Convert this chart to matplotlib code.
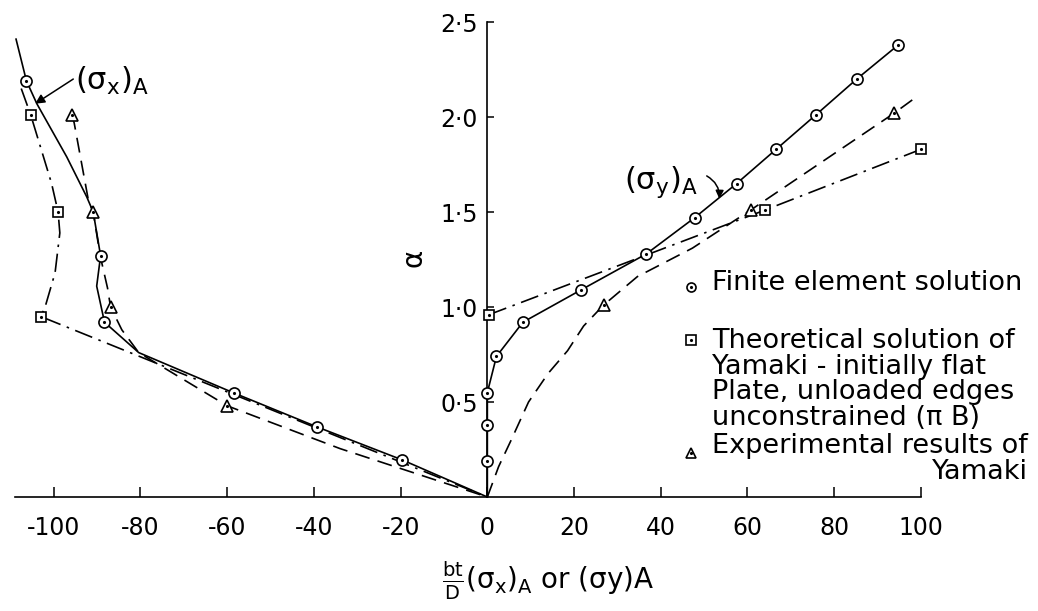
import matplotlib
matplotlib.use("Agg")
import matplotlib.pyplot as plt

plt.rcParams["font.family"] = ["DejaVu Sans"]
plt.rcParams["mathtext.fontset"] = "dejavusans"
plt.rcParams["mathtext.default"] = "regular"
plt.rcParams["axes.unicode_minus"] = False

# finite element solution, (sigma_y)_A  (circles, solid)
fe_y_x = [0, 0, 0, 2.1, 8.2, 21.6, 36.7, 47.8, 57.5, 66.6, 75.7, 85.2, 94.8]
fe_y_a = [0.19, 0.38, 0.55, 0.74, 0.92, 1.09, 1.28, 1.47, 1.65, 1.83, 2.01, 2.20, 2.38]
fe_y_line_x = [0] + fe_y_x
fe_y_line_a = [0] + fe_y_a

# theory of Yamaki, (sigma_y)_A  (squares, dash-dot)
th_y_x = [0.4, 64, 100]
th_y_a = [0.96, 1.51, 1.83]

# experiments of Yamaki, (sigma_y)_A  (triangles, dashed)
ex_y_x = [26.8, 60.7, 93.8]
ex_y_a = [1.01, 1.51, 2.02]
ex_y_line_x = [0, 2.6, 5.5, 9.5, 14, 18.5, 22.2, 26.8, 34.6, 47.3, 60.7, 93.8, 98]
ex_y_line_a = [0, 0.16, 0.30, 0.50, 0.65, 0.77, 0.90, 1.01, 1.16, 1.31, 1.51, 2.02, 2.09]

# finite element solution, (sigma_x)_A
fe_x_x = [-106.3, -89.2, -88.3, -58.4, -39.4, -19.6]
fe_x_a = [2.19, 1.27, 0.92, 0.547, 0.37, 0.195]
fe_x_line_x = [-108.7, -106.3, -103.9, -97, -92.4, -90.9, -89.2, -90.1, -88.3,
               -80.4, -58.4, -39.4, -19.6, 0]
fe_x_line_a = [2.41, 2.19, 2.07, 1.79, 1.58, 1.50, 1.27, 1.11, 0.92,
               0.76, 0.547, 0.37, 0.195, 0]

# theory, (sigma_x)_A
th_x_x = [-105.3, -99, -103]
th_x_a = [2.01, 1.50, 0.95]
th_x_line_x = [-107.5, -105.3, -100.5, -99, -98.6, -99.7, -102, -103, 0]
th_x_line_a = [2.15, 2.01, 1.65, 1.50, 1.39, 1.18, 1.00, 0.95, 0]

# experiments, (sigma_x)_A
ex_x_x = [-95.9, -90.9, -86.9, -60]
ex_x_a = [2.01, 1.50, 1.00, 0.48]
ex_x_line_x = [-95.9, -95.3, -92, -90.9, -89.3, -87.6, -86.9, -84.3, -80.4, -60, -34, 0]
ex_x_line_a = [2.01, 1.97, 1.56, 1.50, 1.27, 1.10, 1.00, 0.88, 0.76, 0.48, 0.255, 0]

x_ticks = [-100, -80, -60, -40, -20, 0, 20, 40, 60, 80, 100]
x_tick_labels = ["-100", "-80", "-60", "-40", "-20", "0", "20", "40", "60", "80", "100"]
y_ticks = [0.5, 1.0, 1.5, 2.0, 2.5]
y_tick_labels = ["0·5", "1·0", "1·5", "2·0", "2·5"]

legend_fe = "Finite element solution"
legend_th = ("Theoretical solution of\nYamaki - initially flat\n"
             "Plate, unloaded edges\nunconstrained (π B)")
legend_ex = "Experimental results of\nYamaki"

SOLID = "-"
DASHED = (0, (9, 5))
DASHDOT = (0, (11, 4, 1.5, 4))
LW = 1.2

fig = plt.figure(figsize=(10.38, 6.11), dpi=100)
ax = fig.add_axes([0, 0, 1, 1])
ax.set_xlim(-112.4, 127.0)
ax.set_ylim(-0.6, 2.616)


def marks(x, y, marker, size):
    ax.plot(x, y, linestyle="none", marker=marker, ms=size, mfc="white",
            mec="black", mew=1.2, zorder=4)
    ax.plot(x, y, linestyle="none", marker=".", ms=2.5, color="black", zorder=5)


ax.plot(th_x_line_x, th_x_line_a, color="black", lw=LW, ls=DASHDOT, zorder=2)
ax.plot(th_y_x, th_y_a, color="black", lw=LW, ls=DASHDOT, zorder=2)
ax.plot(ex_x_line_x, ex_x_line_a, color="black", lw=LW, ls=DASHED, zorder=2)
ax.plot(ex_y_line_x, ex_y_line_a, color="black", lw=LW, ls=DASHED, zorder=2)
ax.plot(fe_x_line_x, fe_x_line_a, color="black", lw=LW, ls=SOLID, zorder=3)
ax.plot(fe_y_line_x, fe_y_line_a, color="black", lw=LW, ls=SOLID, zorder=3)

marks(fe_x_x, fe_x_a, "o", 8)
marks(fe_y_x, fe_y_a, "o", 8)
marks(th_x_x, th_x_a, "s", 7.5)
marks(th_y_x, th_y_a, "s", 7.5)
marks(ex_x_x, ex_x_a, "^", 9)
marks(ex_y_x, ex_y_a, "^", 9)

# axes through the origin
for side in ["top", "right"]:
    ax.spines[side].set_visible(False)
ax.spines["bottom"].set_position(("data", 0))
ax.spines["left"].set_position(("data", 0))
ax.spines["bottom"].set_bounds(-109, 100)
ax.spines["left"].set_bounds(0, 2.5)
ax.spines["bottom"].set_linewidth(1.2)
ax.spines["left"].set_linewidth(1.2)
ax.set_xticks(x_ticks)
ax.set_xticklabels(x_tick_labels)
ax.set_yticks(y_ticks)
ax.set_yticklabels(y_tick_labels)
ax.tick_params(axis="x", direction="in", length=7, width=1.1, pad=14, labelsize=17)
ax.tick_params(axis="y", direction="in", length=5, width=1.1, pad=7, labelsize=17)
ax.set_facecolor("white")

# labels
ax.text(-17.1, 1.26, "α", fontsize=20, rotation=90, ha="center", va="center")
ax.text(14.0, -0.44, r"$\frac{bt}{D}(\sigma_x)_A$ or $(\sigma y)$A",
        fontsize=20, ha="center", va="center")

ax.text(-86.5, 2.19, r"$(\sigma_x)_A$", fontsize=22, ha="center", va="center")
ax.annotate("", xy=(-104.3, 2.07), xytext=(-95.5, 2.20),
            arrowprops=dict(arrowstyle="-|>", color="black", lw=1.1,
                            mutation_scale=14, shrinkA=0, shrinkB=0))
ax.text(40.1, 1.66, r"$(\sigma_y)_A$", fontsize=22, ha="center", va="center")
ax.annotate("", xy=(53.5, 1.57), xytext=(50.6, 1.69),
            arrowprops=dict(arrowstyle="-|>", color="black", lw=1.1,
                            mutation_scale=12, shrinkA=0, shrinkB=0,
                            connectionstyle="arc3,rad=-0.3"))

# legend, hand laid out
key_x = 46.9
text_x = 51.8
ax.text(text_x, 1.089, legend_fe, fontsize=19.5, ha="left", va="baseline")
ax.text(text_x, 0.89, legend_th, fontsize=19.5, ha="left", va="top",
        linespacing=0.98)
ax.text(text_x, 0.335, legend_ex, fontsize=19.5, ha="left", va="top",
        multialignment="right", linespacing=1.0)
marks([key_x], [1.107], "o", 6.5)
marks([key_x], [0.826], "s", 7)
marks([key_x], [0.232], "^", 7.5)

fig.savefig("out.png", dpi=100, facecolor="white")
